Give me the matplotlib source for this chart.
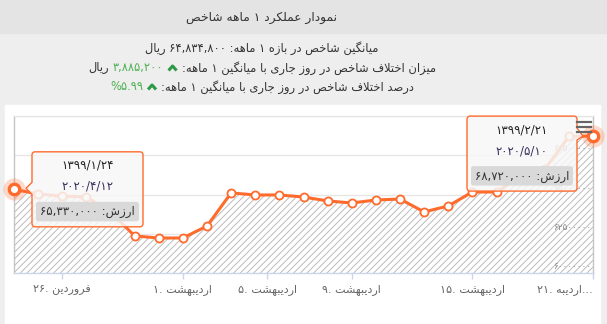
import numpy as np
import matplotlib
matplotlib.use('Agg')
import matplotlib.pyplot as plt
from matplotlib.patches import Rectangle, Polygon, FancyBboxPatch
from matplotlib.transforms import Affine2D
from matplotlib.lines import Line2D

# Data: 1 month index values (rial), one point per trading day
values = [65330000, 65030000, 64900000, 64840000, 63900000, 62360000, 62230000,
          62230000, 62990000, 65100000, 64970000, 64970000, 64840000, 64590000,
          64460000, 64650000, 64710000, 63890000, 64270000, 65160000, 65160000,
          66200000, 66600000, 68700000, 68720000]
tick_pos = [2, 7, 10.5, 14, 19, 24]
tick_days = ['۲۶', '۱', '۵', '۹', '۱۵', '۲۱']
tick_months = ['فروردین', 'اردیبهشت', 'اردیبهشت', 'اردیبهشت', 'اردیبهشت', 'اردیبه']
y_ticks = [60000000, 62500000, 65000000, 67500000, 70000000]
y_labels = ['۶۰۰۰۰۰۰۰', '۶۲۵۰۰۰۰۰', '۶۵۰۰۰۰۰۰', '۶۷۵۰۰۰۰۰']
tip_first = ['۱۳۹۹/۱/۲۴', '۲۰۲۰/۴/۱۲', '۶۵,۳۳۰,۰۰۰']
tip_last = ['۱۳۹۹/۲/۲۱', '۲۰۲۰/۵/۱۰', '۶۸,۷۲۰,۰۰۰']

title = 'نمودار عملکرد ۱ ماهه شاخص'
line1 = 'میانگین شاخص در بازه ۱ ماهه: ۶۴,۸۳۴,۸۰۰ ریال'
line2_txt = 'میزان اختلاف شاخص در روز جاری با میانگین ۱ ماهه:'
line2_val = '۳,۸۸۵,۲۰۰'
line3_txt = 'درصد اختلاف شاخص در روز جاری با میانگین ۱ ماهه:'
line3_val = '%۵.۹۹'

OR = '#ff6b2d'
GREEN = '#4cb050'
DARK = '#333333'

# Arabic shaping (matplotlib has no bidi / joining support)
FORMS = {'آ': (0xFE81, 2), 'ا': (0xFE8D, 2), 'ب': (0xFE8F, 4), 'ت': (0xFE95, 4),
         'ث': (0xFE99, 4), 'ج': (0xFE9D, 4), 'ح': (0xFEA1, 4), 'خ': (0xFEA5, 4),
         'د': (0xFEA9, 2), 'ذ': (0xFEAB, 2), 'ر': (0xFEAD, 2), 'ز': (0xFEAF, 2),
         'س': (0xFEB1, 4), 'ش': (0xFEB5, 4), 'ص': (0xFEB9, 4), 'ض': (0xFEBD, 4),
         'ط': (0xFEC1, 4), 'ظ': (0xFEC5, 4), 'ع': (0xFEC9, 4), 'غ': (0xFECD, 4),
         'ف': (0xFED1, 4), 'ق': (0xFED5, 4), 'ل': (0xFEDD, 4), 'م': (0xFEE1, 4),
         'ن': (0xFEE5, 4), 'ه': (0xFEE9, 4), 'و': (0xFEED, 2), 'پ': (0xFB56, 4),
         'چ': (0xFB7A, 4), 'ژ': (0xFB8A, 2), 'ک': (0xFB8E, 4), 'ك': (0xFB8E, 4),
         'گ': (0xFB92, 4), 'ی': (0xFBFC, 4), 'ي': (0xFBFC, 4)}


def shape(word):
    out = []
    i = 0
    while i < len(word):
        c = word[i]
        if c not in FORMS:
            out.append(c)
            i += 1
            continue
        prev = word[i - 1] if i > 0 else None
        join_prev = prev in FORMS and FORMS[prev][1] == 4
        if c == 'ل' and i + 1 < len(word) and word[i + 1] == 'ا':
            out.append(chr(0xFEFC if join_prev else 0xFEFB))
            i += 2
            continue
        start, n = FORMS[c]
        nxt = word[i + 1] if i + 1 < len(word) else None
        join_next = n == 4 and nxt in FORMS
        if join_prev and join_next:
            k = 3
        elif join_next:
            k = 2
        elif join_prev:
            k = 1
        else:
            k = 0
        out.append(chr(start + k))
        i += 1
    return ''.join(out)


def fa(text):
    """RTL text -> visual left-to-right string."""
    toks = []
    for t in text.split(' '):
        if any(ch in FORMS for ch in t):
            t = shape(t)[::-1]
        toks.append(t)
    return ' '.join(toks[::-1])


W, H = 607, 324
plt.rcParams['font.family'] = ['DejaVu Sans']
plt.rcParams['hatch.linewidth'] = 0.7
fig = plt.figure(figsize=(W / 100, H / 100), dpi=100)
fig.patch.set_facecolor('#eeeeee')
px = Affine2D().scale(1 / W, -1 / H).translate(0, 1) + fig.transFigure

fig.add_artist(Rectangle((0, 0), W, 33, transform=px, color='#e4e4e4', zorder=-5))
fig.add_artist(Rectangle((5, 105), 595, 230, transform=px, color='white', zorder=-5))

# Plot
ax = fig.add_axes([14 / W, 1 - 273 / H, 579 / W, 157 / H])
ax.set_facecolor('none')
x = np.arange(len(values))
ax.fill_between(x, values, y_ticks[0], facecolor='white', edgecolor='#bcbcbc',
                hatch='/////', linewidth=0, zorder=1)
ax.plot(x, values, color=OR, lw=2.2, marker='o', ms=5.8, mfc='white', mec=OR,
        mew=1.3, clip_on=False, zorder=3)
ends = [0, len(values) - 1]
ax.plot(ends, [values[i] for i in ends], 'o', ms=16, color=OR, alpha=0.25, mew=0,
        clip_on=False, zorder=4)
ax.plot(ends, [values[i] for i in ends], 'o', ms=7.5, mfc='white', mec=OR, mew=2.4,
        clip_on=False, zorder=5)

ax.set_xlim(0, len(values) - 1)
ax.set_ylim(y_ticks[0], y_ticks[-1])
ax.set_yticks(y_ticks)
ax.yaxis.grid(True, color='#e6e6e6', lw=1)
ax.set_axisbelow(True)
ax.tick_params(axis='y', length=0, labelleft=False)
for v, lab in zip(y_ticks, y_labels):
    ax.text(0.997, v + 120000, lab, transform=ax.get_yaxis_transform(), ha='right',
            va='bottom', fontsize=6.5, color='#888888', zorder=2)

ax.set_xticks(tick_pos)
labels = [d + '. ' + fa(m) for d, m in zip(tick_days, tick_months)]
labels[-1] += '...'
ax.set_xticklabels(labels)
ax.tick_params(axis='x', color='#ccd6eb', length=4.5, width=1, labelsize=8,
               labelcolor='#666666', pad=3.5)
ax.get_xticklabels()[-1].set_ha('right')
for side, col in [('left', '#c4c4c4'), ('right', '#c4c4c4'), ('top', '#e6e6e6'),
                  ('bottom', '#ccd6eb')]:
    ax.spines[side].set_color(col)
    ax.spines[side].set_linewidth(1)


# Header texts
def chevron(cx, cy, color):
    fig.add_artist(Line2D([cx - 4, cx, cx + 4], [cy + 2.5, cy - 2, cy + 2.5],
                          transform=px, color=color, lw=2.2, solid_capstyle='butt'))


def draw_line(segs, cx, cy, size=8.3):
    r = fig.canvas.get_renderer()
    items = []
    total = 0
    for s, c in segs:
        if s == '^':
            items.append((None, c, 10))
        else:
            t = fig.text(0, cy, s, fontsize=size, color=c, transform=px, ha='left',
                         va='center')
            items.append((t, c, t.get_window_extent(r).width))
        total += items[-1][2] + 4
    total -= 4
    xx = cx - total / 2
    for t, c, w in items:
        if t is None:
            chevron(xx + w / 2, cy, c)
        else:
            t.set_position((xx, cy))
        xx += w + 4


fig.text(262, 17, fa(title), transform=px, ha='center', va='center', fontsize=8.8,
         color=DARK)
draw_line([(fa(line1), DARK)], 262, 48)
draw_line([(fa('ریال'), DARK), (line2_val, GREEN), ('^', '#2e9a48'),
           (fa(line2_txt), DARK)], 262, 68)
draw_line([(line3_val, GREEN), ('^', '#2e9a48'), (fa(line3_txt), DARK)], 262, 87)


# Tooltips
def tooltip(i, info, side):
    dx, dy = ax.transData.transform((x[i], values[i]))
    ax_, ay_ = dx, H - dy
    if side == 'left':
        x0, x1, y0 = ax_ + 18, ax_ + 129, ay_ - 37.5
        tip = (ax_ + 12, ay_ - 1)
    else:
        x0, x1, y0 = ax_ - 126, ax_ - 16, ay_ - 20
        tip = (ax_ - 10, ay_)
    y1 = y0 + 75
    r = 3
    pts = []

    def arc(cx, cy, a0, a1):
        for a in np.radians(np.linspace(a0, a1, 6)):
            pts.append((cx + r * np.cos(a), cy + r * np.sin(a)))

    arc(x0 + r, y0 + r, 180, 270)
    arc(x1 - r, y0 + r, 270, 360)
    if side == 'right':
        pts += [(x1, tip[1] - 8), tip, (x1, tip[1] + 4)]
    arc(x1 - r, y1 - r, 0, 90)
    arc(x0 + r, y1 - r, 90, 180)
    if side == 'left':
        pts += [(x0, tip[1] + 6), tip, (x0, tip[1] - 6)]
    fig.add_artist(Polygon(pts, closed=True, transform=px, fc=(0.97, 0.97, 0.97, 0.85),
                           ec=OR, lw=1, zorder=10))
    cx = (x0 + x1) / 2
    fig.text(cx, y0 + 13.5, info[0], transform=px, ha='center', va='center',
             fontsize=8.5, color='#222222', zorder=11)
    fig.text(cx, y0 + 34.5, info[1], transform=px, ha='center', va='center',
             fontsize=8.5, color='#3a2d5c', zorder=11)
    fig.add_artist(FancyBboxPatch((x0 + 4, y0 + 50), x1 - x0 - 8, 19.5,
                                  boxstyle='round,pad=0,rounding_size=2.5',
                                  transform=px, fc='#d9d9d9', ec='none', zorder=11))
    fig.text(cx, y0 + 60, info[2] + ' :' + fa('ارزش'), transform=px, ha='center',
             va='center', fontsize=8.5, color=DARK, zorder=12)


tooltip(0, tip_first, 'left')
tooltip(len(values) - 1, tip_last, 'right')

# export menu icon
for yy in [122, 127, 132]:
    fig.add_artist(Line2D([577, 591], [yy, yy], transform=px, color='#666666',
                          lw=1.6, zorder=13))

fig.savefig('out.png', dpi=100, facecolor=fig.get_facecolor())
